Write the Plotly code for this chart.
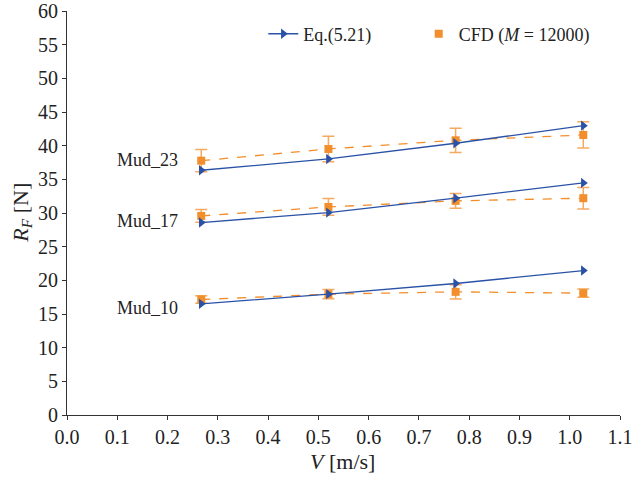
import plotly.graph_objects as go

V = [0.267, 0.52, 0.773, 1.027]

eq_mud23 = [36.35, 38.03, 40.36, 42.97]
eq_mud17 = [28.58, 30.06, 32.2, 34.47]
eq_mud10 = [16.51, 17.95, 19.53, 21.45]

cfd_mud23 = [37.77, 39.51, 40.80, 41.59]
cfd_mud23_err = [1.65, 1.9, 1.8, 1.95]
cfd_mud17 = [29.57, 30.9, 31.8, 32.2]
cfd_mud17_err = [0.95, 1.25, 1.1, 1.6]
cfd_mud10 = [17.15, 17.95, 18.29, 18.1]
cfd_mud10_err = [0.55, 0.7, 1.05, 0.6]

labels = ["Mud_23", "Mud_17", "Mud_10"]
label_y = [37.8, 28.87, 15.87]

x_ticks = [round(0.1 * i, 1) for i in range(12)]
y_ticks = list(range(0, 61, 5))

BLUE = "#2a52a6"
ORANGE = "#f28e2b"
ORANGE_ERR = "rgba(242,142,43,0.75)"
FONT = "Liberation Serif"

fig = go.Figure()

eq_sets = [eq_mud23, eq_mud17, eq_mud10]
cfd_sets = [(cfd_mud23, cfd_mud23_err), (cfd_mud17, cfd_mud17_err), (cfd_mud10, cfd_mud10_err)]

for i, (vals, errs) in enumerate(cfd_sets):
    fig.add_trace(go.Scatter(
        x=V, y=vals, mode="lines+markers",
        line=dict(color=ORANGE, width=1.3, dash="dash"),
        marker=dict(symbol="square", size=8, color=ORANGE),
        error_y=dict(type="data", array=errs, visible=True, color=ORANGE_ERR, thickness=1.5, width=6),
        name="CFD (<i>M</i> = 12000)", showlegend=False,
    ))

for i, vals in enumerate(eq_sets):
    fig.add_trace(go.Scatter(
        x=V, y=vals, mode="lines+markers",
        line=dict(color=BLUE, width=1.3),
        marker=dict(symbol="triangle-right", size=9, color=BLUE),
        name="Eq.(5.21)", showlegend=(i == 0), legend="legend",
    ))

# legend entry for CFD (point placed outside visible range)
fig.add_trace(go.Scatter(
    x=[-1], y=[-1], mode="markers",
    marker=dict(symbol="square", size=8, color=ORANGE),
    name="CFD (<i>M</i> = 12000)", showlegend=True, legend="legend2",
))

for lab, ly in zip(labels, label_y):
    fig.add_annotation(x=0.225, y=ly, xref="x", yref="y", text=lab, showarrow=False,
                       xanchor="right", yanchor="middle",
                       font=dict(family=FONT, size=18, color="#222"))

# axis titles
fig.add_annotation(x=0.498, y=-0.114, xref="paper", yref="paper", text="<i>V</i> [m/s]",
                   showarrow=False, xanchor="center", yanchor="middle",
                   font=dict(family=FONT, size=22, color="#222"))
fig.add_annotation(x=-0.082, y=0.5, xref="paper", yref="paper",
                   text="<i>R</i><sub><i>F</i></sub> [N]", textangle=-90,
                   showarrow=False, xanchor="center", yanchor="middle",
                   font=dict(family=FONT, size=22, color="#222"))

axis_common = dict(
    showgrid=False, zeroline=False, showline=True, linecolor="#333", linewidth=1,
    ticks="outside", ticklen=4, tickwidth=1, tickcolor="#333", automargin=False,
    tickfont=dict(family=FONT, size=20, color="#222"), mirror=False,
)

legend_common = dict(orientation="h", yanchor="middle", xanchor="left",
                     font=dict(family=FONT, size=18, color="#222"),
                     bgcolor="rgba(0,0,0,0)", borderwidth=0)

fig.update_layout(
    width=633, height=478,
    margin=dict(l=67, r=13, t=11, b=63, autoexpand=False),
    paper_bgcolor="white", plot_bgcolor="white",
    xaxis=dict(range=[0, 1.1], tickvals=x_ticks, ticktext=[f"{t:.1f}" for t in x_ticks],
               **axis_common),
    yaxis=dict(range=[0, 60], tickvals=y_ticks, **axis_common),
    legend=dict(x=0.355, y=0.943, **legend_common),
    legend2=dict(x=0.636, y=0.943, **legend_common),
    showlegend=True,
)

fig.write_html("out.html", config={"displayModeBar": False},
               post_script="document.body.style.margin='0';")
